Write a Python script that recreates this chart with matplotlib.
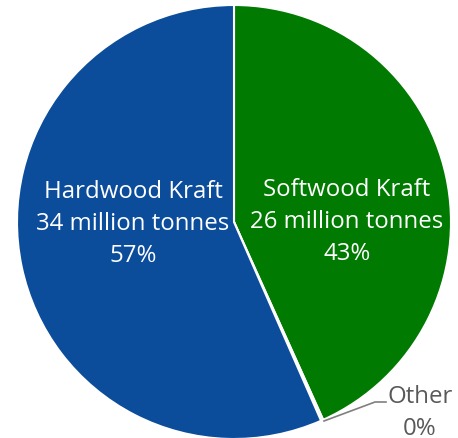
import matplotlib
matplotlib.use("Agg")
import matplotlib.pyplot as plt

categories = ["Softwood Kraft", "Other", "Hardwood Kraft"]
tonnes = [26, 0.1, 34]
colors = ["#007a00", "#a5a5a5", "#0b4c9b"]

plt.rcParams["font.family"] = ["Open Sans", "DejaVu Sans"]

W, H = 458, 439
fig = plt.figure(figsize=(W / 100, H / 100), dpi=100)
ax = fig.add_axes([0, 0, 1, 1])

cx, cy, r = 234, H - 223, 217
wedges, _ = ax.pie(tonnes, colors=colors, startangle=90, counterclock=False,
                   center=(cx, cy), radius=r, frame=True,
                   wedgeprops=dict(edgecolor="white", linewidth=1.5))
ax.set_xlim(0, W)
ax.set_ylim(0, H)
ax.axis("off")

total = sum(tonnes)
pct = [round(v / total * 100) for v in tonnes]

fs = 17.3
ls = 1.43
ax.text(347, H - 222, f"{categories[0]}\n{tonnes[0]} million tonnes\n{pct[0]}%",
        ha="center", va="center", color="white", fontsize=fs, linespacing=ls)
ax.text(133, H - 224, f"{categories[2]}\n{tonnes[2]} million tonnes\n{pct[2]}%",
        ha="center", va="center", color="white", fontsize=fs, linespacing=ls)

# leader for the tiny slice
ax.plot([324, 375, 386], [H - 422, H - 403, H - 403], color="#7f7f7f", lw=1.2)
ax.text(420, H - 413, f"{categories[1]}\n{pct[1]}%", ha="center", va="center",
        color="#595959", fontsize=fs, linespacing=ls)

fig.savefig("out.png", dpi=100)
